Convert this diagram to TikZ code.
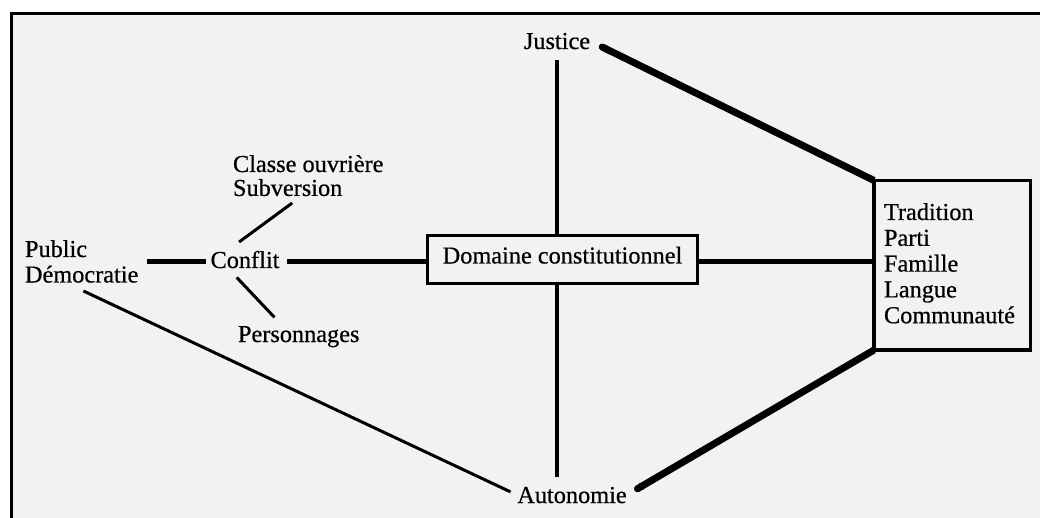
\documentclass[tikz,border=0pt]{standalone}
\usepackage{fontspec}
\setmainfont{Liberation Serif}[FakeBold=0.6]
\usetikzlibrary{arrows.meta}
\definecolor{paper}{gray}{0.95}
% left-aligned block of lines with a chosen line spacing; its baseline is the first line's
\newcommand\stackedlines[2]{{\fontsize{24.3}{#1}\selectfont\begin{tabular}[t]{@{}l@{}}#2\end{tabular}}}
\begin{document}
\begin{tikzpicture}[x=1pt,y=-1pt,
  every node/.style={inner sep=0pt, outer sep=0pt, font=\fontsize{24.3}{25.8}\selectfont},
  boxed/.style={draw, line width=3.5pt},
  heavy/.style={line width=7pt, {Round Cap[]}-},
  axisline/.style={line width=4.5pt},
  stem/.style={line width=4pt},
  fine/.style={line width=3pt}]
  \useasboundingbox (0,0) rectangle (1040,518);
  \fill[white] (0,0) rectangle (1040,518);
  \fill[paper] (11.5,13.5) rectangle (1040,518);
  \draw[line width=3.5pt] (1041,13.5) -- (11.5,13.5) -- (11.5,519);

  % labels
  \node[anchor=base] (just) at (557,49) {Justice};
  \node[anchor=base west] (cls) at (233,172) {\stackedlines{23.5}{Classe ouvrière\\Subversion}};
  \node[anchor=base west] (pub) at (25,257) {\stackedlines{25.5}{Public\\Démocratie}};
  \node[anchor=base] (con) at (245,268) {Conflit};
  \node[anchor=base west] (per) at (238,342) {Personnages};
  \node[anchor=base] (aut) at (572,503) {Autonomie};

  % boxes
  \node[boxed, minimum width=270pt, minimum height=48pt, text height=14pt, text depth=6pt] (dom) at (562.5,259.5) {Domaine constitutionnel};
  \node[boxed, minimum width=156.5pt, minimum height=169.5pt] (trad) at (952.25,265.25) {};
  \node[anchor=base west] (tradtxt) at (884,220) {\stackedlines{25.8}{Tradition\\Parti\\Famille\\Langue\\Communauté}};

  \coordinate (axis) at (0,261.5);

  % horizontal axis
  \draw[axisline, shorten <=9pt, shorten >=5pt] (pub.east |- axis) -- (con.west |- axis);
  \draw[axisline, shorten <=8pt] (con.east |- axis) -- (dom.west |- axis);
  \draw[axisline] (dom.east |- axis) -- (trad.west |- axis);

  % vertical axis
  \draw[stem, shorten <=11pt] (just.base) -- (just.base |- dom.north);
  \draw[stem, shorten >=26pt] (just.base |- dom.south) -- (just.base |- aut.base);

  % heavy links to the right-hand box
  \draw[heavy, shorten <=10pt] (just.east) -- (trad.north west);
  \draw[heavy, shorten <=9pt] (aut.east) -- (trad.south west);

  % thin links
  \draw[fine, shorten <=2pt, shorten >=7.5pt] (pub.south) -- (aut.west);
  \draw[fine, shorten >=15pt] ([xshift=-16pt]cls.south) -- ([xshift=-18pt]con.north);
  \draw[fine, shorten <=12.7pt, shorten >=12pt] ([xshift=-17pt]con.south) -- ([xshift=-16pt]per.north);
\end{tikzpicture}
\end{document}
